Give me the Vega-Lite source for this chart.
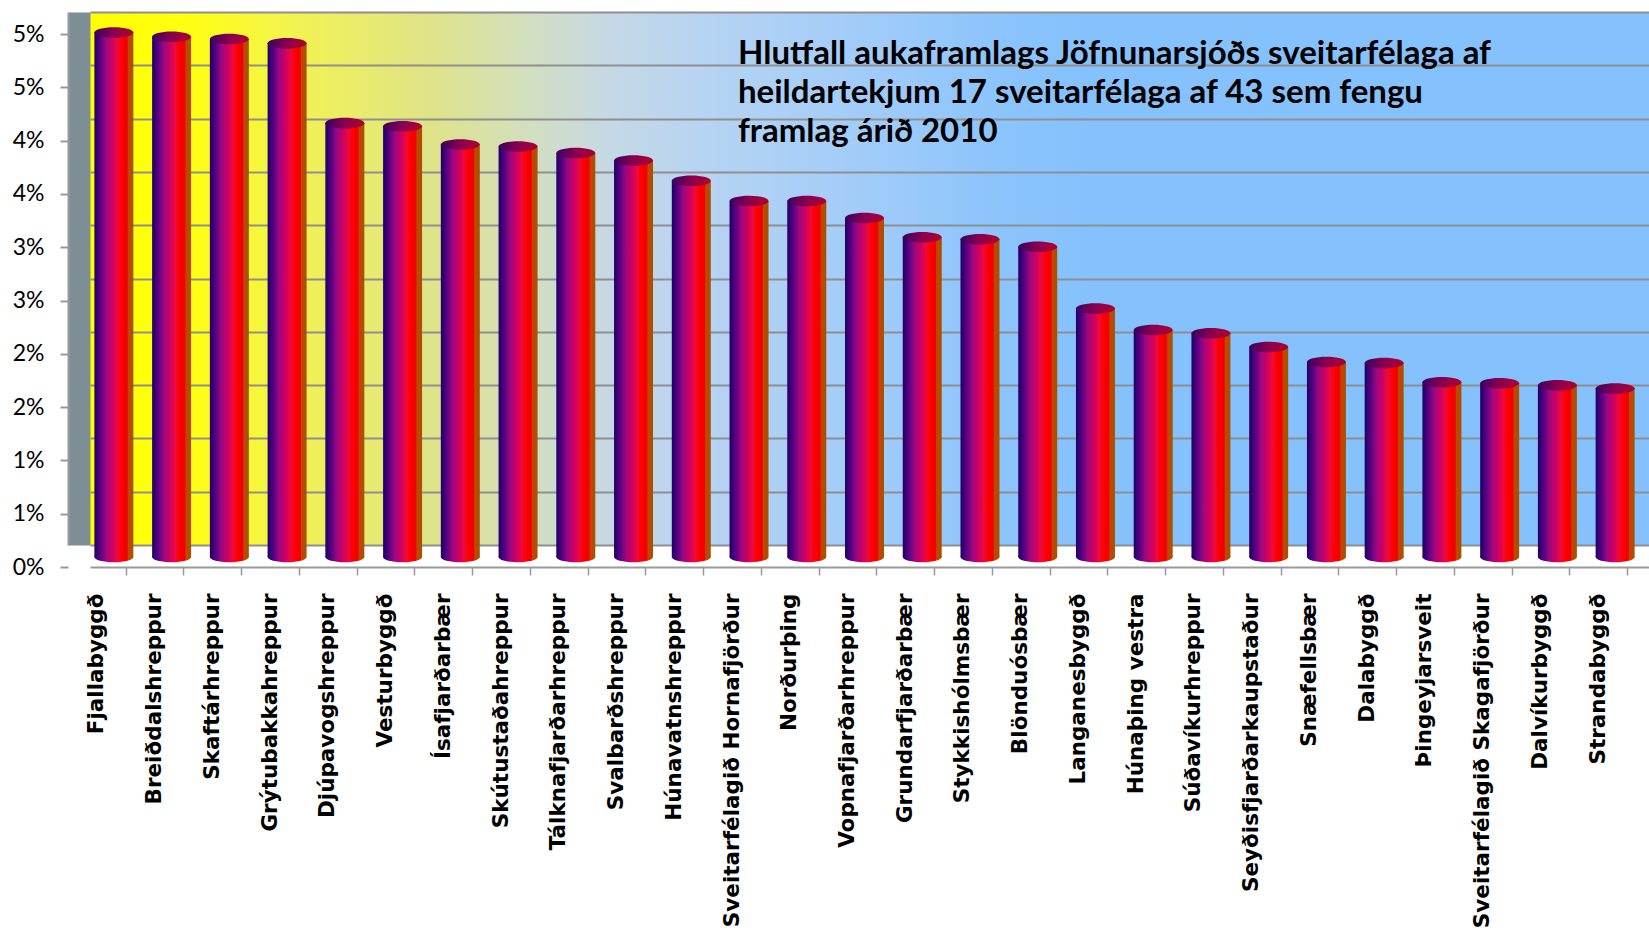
{
  "$schema": "https://vega.github.io/schema/vega-lite/v6.json",
  "width": 1559,
  "height": 533,
  "autosize": {"type": "none"},
  "padding": {"left": 90, "top": 12, "right": 0, "bottom": 390},
  "background": "white",
  "view": {
    "stroke": null,
    "fill": {
      "gradient": "linear", "x1": 0, "y1": 0, "x2": 1, "y2": 0,
      "stops": [
        {"offset": 0, "color": "#ffff00"},
        {"offset": 0.06, "color": "#ffff10"},
        {"offset": 0.13, "color": "#f2f350"},
        {"offset": 0.22, "color": "#dfe38a"},
        {"offset": 0.28, "color": "#d2dfbf"},
        {"offset": 0.33, "color": "#c6d9e4"},
        {"offset": 0.39, "color": "#b7d4f2"},
        {"offset": 0.52, "color": "#9ccafa"},
        {"offset": 0.58, "color": "#8cc4fc"},
        {"offset": 0.65, "color": "#84c1fd"},
        {"offset": 1, "color": "#84c1fd"}
      ]
    }
  },
  "title": {
    "text": ["Hlutfall aukaframlags Jöfnunarsjóðs sveitarfélaga af", "heildartekjum 17 sveitarfélaga af 43 sem fengu", "framlag árið 2010"],
    "anchor": "start",
    "frame": "group",
    "orient": "top",
    "offset": 0,
    "baseline": "top",
    "dx": 648,
    "dy": 137,
    "font": "Lato",
    "fontSize": 33,
    "fontWeight": "bold",
    "color": "black",
    "lineHeight": 39
  },
  "data": {
    "values": [
      {"name": "Fjallabyggð", "value": 0.0492},
      {"name": "Breiðdalshreppur", "value": 0.0488},
      {"name": "Skaftárhreppur", "value": 0.0486},
      {"name": "Grýtubakkahreppur", "value": 0.0482},
      {"name": "Djúpavogshreppur", "value": 0.0407},
      {"name": "Vesturbyggð", "value": 0.0404},
      {"name": "Ísafjarðarbær", "value": 0.0387},
      {"name": "Skútustaðahreppur", "value": 0.0385},
      {"name": "Tálknafjarðarhreppur", "value": 0.0379},
      {"name": "Svalbarðshreppur", "value": 0.0372},
      {"name": "Húnavatnshreppur", "value": 0.0353},
      {"name": "Sveitarfélagið Hornafjörður", "value": 0.0334},
      {"name": "Norðurþing", "value": 0.0334},
      {"name": "Vopnafjarðarhreppur", "value": 0.0318},
      {"name": "Grundarfjarðarbær", "value": 0.0300},
      {"name": "Stykkishólmsbær", "value": 0.0298},
      {"name": "Blönduósbær", "value": 0.0291},
      {"name": "Langanesbyggð", "value": 0.0233},
      {"name": "Húnaþing vestra", "value": 0.0213},
      {"name": "Súðavíkurhreppur", "value": 0.0210},
      {"name": "Seyðisfjarðarkaupstaður", "value": 0.0197},
      {"name": "Snæfellsbær", "value": 0.0183},
      {"name": "Dalabyggð", "value": 0.0182},
      {"name": "Þingeyjarsveit", "value": 0.0164},
      {"name": "Sveitarfélagið Skagafjörður", "value": 0.0163},
      {"name": "Dalvíkurbyggð", "value": 0.0161},
      {"name": "Strandabyggð", "value": 0.0158}
    ]
  },
  "encoding": {
    "x": {
      "field": "name", "type": "nominal", "sort": null,
      "scale": {"paddingInner": 0, "paddingOuter": 0},
      "axis": {
        "orient": "bottom",
        "title": null,
        "offset": 22,
        "domainColor": "#999999",
        "domainWidth": 2,
        "tickColor": "#999999",
        "tickWidth": 1.5,
        "tickSize": 8,
        "tickOffset": 6.87,
        "labelOffset": -28.87,
        "labelAngle": 270,
        "labelAlign": "right",
        "labelBaseline": "middle",
        "labelPadding": 18,
        "labelFont": "DejaVu Sans",
        "labelFontWeight": "bold",
        "labelFontSize": 21.5,
        "labelColor": "black",
        "labelLimit": 400,
        "labelOverlap": false
      }
    }
  },
  "resolve": {"axis": {"y": "independent"}},
  "layer": [
    {
      "mark": {
        "type": "point",
        "shape": "M-1,0A1,0.27,0,1,1,1,0A1,0.27,0,1,1,-1,0Z",
        "size": 1521,
        "filled": true,
        "opacity": 1,
        "strokeWidth": 0,
        "xOffset": -5,
        "yOffset": 12,
        "fill": {
          "gradient": "linear", "x1": 0, "y1": 0, "x2": 1, "y2": 0,
          "stops": [
            {"offset": 0, "color": "#1e0060"},
            {"offset": 0.12, "color": "#4a0080"},
            {"offset": 0.3, "color": "#9a0880"},
            {"offset": 0.45, "color": "#cc0066"},
            {"offset": 0.6, "color": "#ee0a3a"},
            {"offset": 0.7, "color": "#ff0000"},
            {"offset": 0.84, "color": "#f00000"},
            {"offset": 0.87, "color": "#c04800"},
            {"offset": 1, "color": "#a85000"}
          ]
        }
      },
      "encoding": {
        "y": {"datum": 0, "type": "quantitative", "axis": null}
      }
    },
    {
      "mark": {
        "type": "bar",
        "width": {"band": 0.675},
        "xOffset": -5,
        "yOffset": 12,
        "y2Offset": 12,
        "fill": {
          "gradient": "linear", "x1": 0, "y1": 0, "x2": 1, "y2": 0,
          "stops": [
            {"offset": 0, "color": "#1e0060"},
            {"offset": 0.12, "color": "#4a0080"},
            {"offset": 0.3, "color": "#9a0880"},
            {"offset": 0.45, "color": "#cc0066"},
            {"offset": 0.6, "color": "#ee0a3a"},
            {"offset": 0.7, "color": "#ff0000"},
            {"offset": 0.84, "color": "#f00000"},
            {"offset": 0.87, "color": "#c04800"},
            {"offset": 1, "color": "#a85000"}
          ]
        }
      },
      "encoding": {
        "y": {
          "field": "value", "type": "quantitative",
          "scale": {"domain": [0, 0.05], "nice": false, "zero": true},
          "axis": {
            "orient": "left",
            "title": null,
            "offset": 11,
            "values": [0, 0.005, 0.01, 0.015, 0.02, 0.025, 0.03, 0.035, 0.04, 0.045, 0.05],
            "grid": true,
            "gridColor": "#8f8f8f",
            "gridWidth": 2,
            "labels": false,
            "ticks": false,
            "domain": true,
            "domainColor": "#7d8e95",
            "domainWidth": 22
          }
        }
      }
    },
    {
      "mark": {
        "type": "point",
        "shape": "M-1,0A1,0.27,0,1,1,1,0A1,0.27,0,1,1,-1,0Z",
        "size": 1521,
        "filled": true,
        "opacity": 1,
        "strokeWidth": 0,
        "xOffset": -5,
        "yOffset": 12,
        "fill": {
          "gradient": "linear", "x1": 0, "y1": 0, "x2": 1, "y2": 0,
          "stops": [
            {"offset": 0, "color": "#3a0060"},
            {"offset": 0.5, "color": "#8a0050"},
            {"offset": 1, "color": "#b00030"}
          ]
        }
      },
      "encoding": {
        "y": {
          "field": "value", "type": "quantitative",
          "axis": {
            "orient": "left",
            "title": null,
            "offset": 22,
            "values": [0, 0.005, 0.01, 0.015, 0.02, 0.025, 0.03, 0.035, 0.04, 0.045, 0.05],
            "format": ".0%",
            "grid": false,
            "domain": true,
            "domainColor": "#999999",
            "domainWidth": 2,
            "ticks": true,
            "tickColor": "#999999",
            "tickWidth": 2,
            "tickSize": 8,
            "tickOffset": 22,
            "labelPadding": 16,
            "labelFont": "Lato",
            "labelFontSize": 23,
            "labelColor": "black",
            "labelFlush": false,
            "labelOverlap": false
          }
        }
      }
    }
  ]
}
